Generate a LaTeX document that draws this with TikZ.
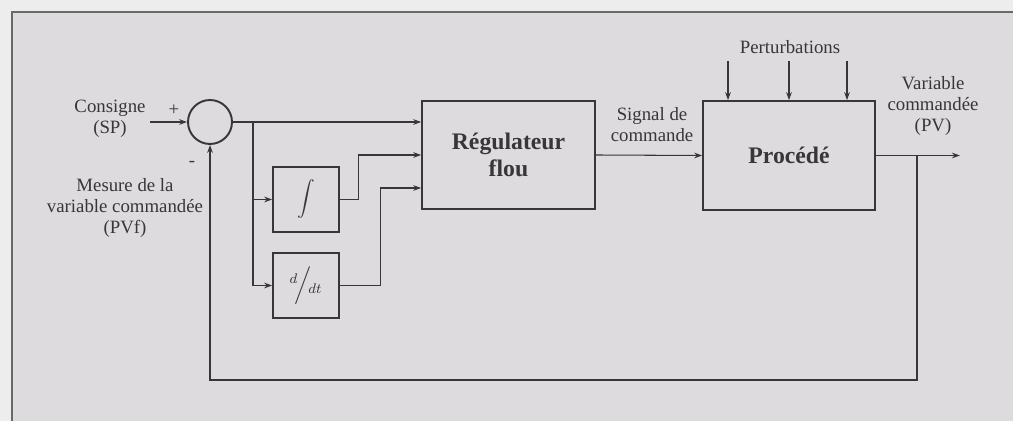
\documentclass[tikz,border=0pt]{standalone}
\usepackage{amsmath, amssymb}
\usepackage{fontspec}
\setmainfont{Liberation Serif}
\usepackage{tikz}
\usetikzlibrary{arrows.meta,calc}

\definecolor{outerbg}{RGB}{238,237,238}
\definecolor{innerbg}{RGB}{221,219,221}
\definecolor{ink}{RGB}{55,55,55}
\definecolor{framegray}{RGB}{105,105,105}

\tikzset{
    txt/.style={text=ink, align=center, inner sep=0pt,
        font=\fontsize{10.7}{12}\selectfont},
    bigtxt/.style={text=ink, align=center, inner sep=0pt,
        font=\fontsize{13.5}{15}\selectfont\bfseries},
    blk/.style={draw=ink, line width=1pt, rectangle, inner sep=0pt},
    sumnode/.style={draw=ink, line width=1.1pt, circle, inner sep=0pt,
        minimum size=0.88cm},
    wire/.style={draw=ink, line width=0.6pt}
}

\begin{document}
\begin{tikzpicture}[x=0.02cm, y=-0.02cm, >={Stealth[length=4.5pt,width=3.2pt]}]
    \useasboundingbox (0,0) rectangle (1013,421);
    \fill[outerbg] (0,0) rectangle (1013,421);
    \fill[innerbg] (12,12) rectangle (1013,421);
    \draw[framegray, line width=1.6pt] (12,421) -- (12,12) -- (1013,12);

    \node[sumnode] (sum) at (210,122) {};
    \node[blk, minimum width=1.32cm, minimum height=1.3cm, text=ink] (integ) at (306,199.5)
        {$\displaystyle\int$};
    \node[blk, minimum width=1.32cm, minimum height=1.3cm, text=ink] (deriv) at (306,285.5)
        {\large$^{d}\!\Big/\!_{dt}$};
    \node[blk, minimum width=3.46cm, minimum height=2.16cm] (reg) at (508.5,155) {};
    \node[bigtxt] (regtxt) at (reg) {Régulateur\\flou};
    \node[blk, minimum width=3.44cm, minimum height=2.18cm] (proc) at (789,155.5) {};
    \node[bigtxt] (proctxt) at (proc) {Procédé};

    \node[txt] (cons) at (110,119) {Consigne\\(SP)};
    \node[txt] (plus) at (174,110) {+};
    \node[txt] (minus) at (192,164) {-};
    \node[txt] (mes) at (125,208) {Mesure de la\\variable commandée\\(PVf)};
    \node[txt] (sig) at (652,125) {Signal de\\commande};
    \node[txt] (pert) at (790,47) {Perturbations};
    \node[txt] (pvtxt) at (933,106) {Variable\\commandée\\(PV)};

    \coordinate (sp) at (150,122);
    \coordinate (br) at (253,122);
    \coordinate (rin1) at (reg.west |- sum);
    \coordinate (rin3) at ($(reg.west)+(0,33)$);
    \coordinate (fb) at (917,155.5);

    \draw[wire, ->] (sp) -- (sum.west);
    \draw[wire, ->] (sum.east) -- (rin1);
    \draw[wire, ->] (br) |- (integ.west);
    \draw[wire, ->] (br) |- (deriv.west);
    \draw[wire, ->] (integ.east) -| ($(reg.west)+(-63,0)$) -- (reg.west);
    \draw[wire, ->] (deriv.east) -| ($(rin3)+(-41,0)$) -- (rin3);
    \draw[wire, ->] (reg.east) -- (proc.west);
    \foreach \dx in {-61,0,58}
        \draw[wire, ->] ($(proc.north)+(\dx,-39)$) -- ($(proc.north)+(\dx,0)$);
    \draw[wire, ->] (proc.east) -- ++(84,0);
    \draw[wire, ->] (fb) -- ++(0,224.5) -| (sum.south);
\end{tikzpicture}
\end{document}
